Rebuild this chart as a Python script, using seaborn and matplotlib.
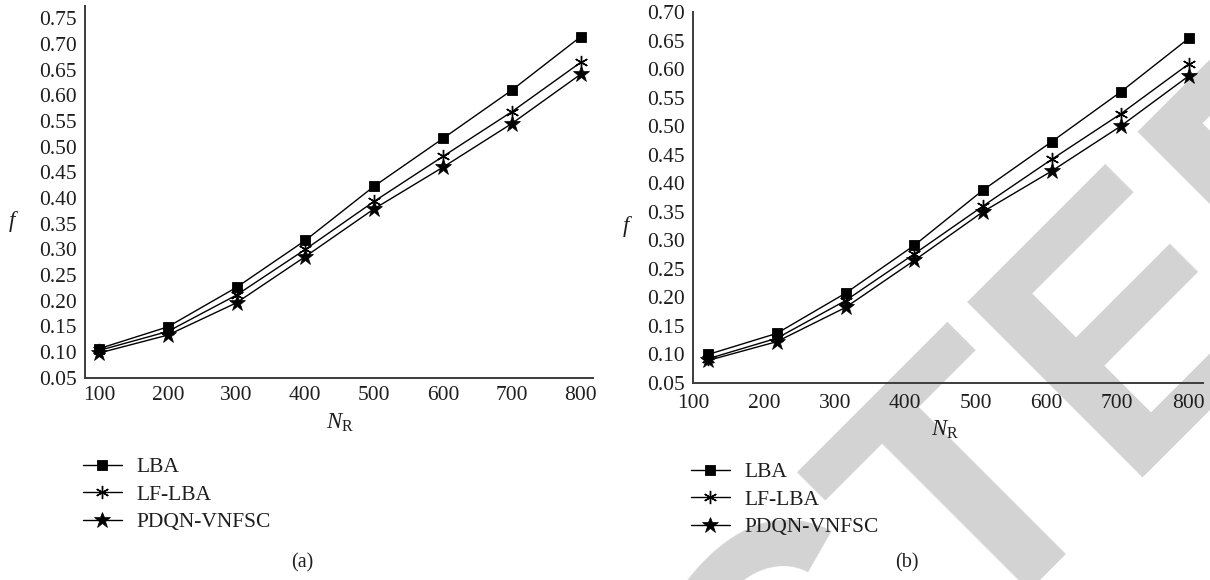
import numpy as np
import pandas as pd
import matplotlib
matplotlib.use("Agg")
import matplotlib.pyplot as plt
import seaborn as sns

# ---------------- data ----------------
n_r = [100, 200, 300, 400, 500, 600, 700, 800]
methods = ["LBA", "LF-LBA", "PDQN-VNFSC"]

a_lba = [0.1065, 0.149, 0.226, 0.3175, 0.423, 0.516, 0.610, 0.714]
a_lflba = [0.103, 0.140, 0.211, 0.300, 0.3935, 0.481, 0.568, 0.664]
a_pdqn = [0.098, 0.133, 0.196, 0.286, 0.379, 0.460, 0.545, 0.641]

b_lba = [0.0995, 0.1365, 0.207, 0.291, 0.388, 0.473, 0.560, 0.655]
b_lflba = [0.092, 0.128, 0.194, 0.276, 0.360, 0.442, 0.5215, 0.610]
b_pdqn = [0.089, 0.122, 0.182, 0.2645, 0.350, 0.4215, 0.500, 0.589]

a_yticks = [0.05, 0.10, 0.15, 0.20, 0.25, 0.30, 0.35, 0.40, 0.45, 0.50, 0.55, 0.60, 0.65, 0.70, 0.75]
b_yticks = [0.05, 0.10, 0.15, 0.20, 0.25, 0.30, 0.35, 0.40, 0.45, 0.50, 0.55, 0.60, 0.65, 0.70]
xtick_labels = ["100", "200", "300", "400", "500", "600", "700", "800"]

# ---------------- style ----------------
sns.set_theme(style="white")
plt.rcParams["font.family"] = ["Liberation Serif", "DejaVu Serif"]
plt.rcParams["mathtext.fontset"] = "custom"
plt.rcParams["mathtext.rm"] = "Liberation Serif"
plt.rcParams["mathtext.it"] = "Liberation Serif:italic"

FS = 15.5
AX_COL = "#3c3c3c"
TXT = "#1e1e1e"

marker_kw = {
    "LBA": dict(marker="s", markersize=7.5, markerfacecolor="black", markeredgecolor="black", markeredgewidth=0.6),
    "LF-LBA": dict(marker=(6, 2, 0), markersize=9.5, markerfacecolor="none", markeredgecolor="black", markeredgewidth=1.0),
    "PDQN-VNFSC": dict(marker="*", markersize=12, markerfacecolor="black", markeredgecolor="black", markeredgewidth=0.5),
}

fig = plt.figure(figsize=(12.1, 5.8), dpi=100)
fig.patch.set_facecolor("white")

# watermark (behind everything)
fig.text(-0.083, -1.924, "RETRACTED", fontsize=260, family="Liberation Sans",
         fontweight="bold", color="#d3d3d3", rotation=45, rotation_mode="anchor",
         ha="left", va="baseline", zorder=-5)

W, H = 1210, 580
ax_a = fig.add_axes([85 / W, 1 - 377.7 / H, (593.3 - 85) / W, (377.7 - 6) / H])
ax_b = fig.add_axes([693.3 / W, 1 - 382.7 / H, (1202.7 - 693.3) / W, (382.7 - 11.7) / H])

panels = [
    (ax_a, [a_lba, a_lflba, a_pdqn], a_yticks, (0.05, 0.774), (79.7, 818.5)),
    (ax_b, [b_lba, b_lflba, b_pdqn], b_yticks, (0.05, 0.701), (79.0, 819.5)),
]

for ax, series, yticks, ylim, xlim in panels:
    ax.set_facecolor("none")
    for name, vals in zip(methods, series):
        df = pd.DataFrame({"N_R": n_r, "f": vals})
        sns.lineplot(data=df, x="N_R", y="f", ax=ax, color="black", linewidth=1.0,
                     label=name, legend=False, **marker_kw[name])
    ax.set_xlim(*xlim)
    ax.set_ylim(*ylim)
    ax.set_yticks(yticks)
    ax.set_yticklabels([f"{v:.2f}" for v in yticks], fontsize=FS)
    ax.set_xlabel("")
    ax.set_ylabel("")
    for s in ["top", "right"]:
        ax.spines[s].set_visible(False)
    for s in ["left", "bottom"]:
        ax.spines[s].set_color(AX_COL)
        ax.spines[s].set_linewidth(1.4)
    ax.tick_params(axis="y", direction="in", length=5, width=1.0, color=AX_COL, pad=6, labelcolor=TXT)
    ax.grid(False)

# panel (a) x ticks: labels at tick positions
ax_a.set_xticks(n_r)
ax_a.set_xticklabels(xtick_labels, fontsize=FS)
ax_a.tick_params(axis="x", direction="in", length=5, width=1.0, color=AX_COL, pad=6, labelcolor=TXT)

# panel (b): tick marks at data positions, labels slightly shifted (as in reference)
ax_b.set_xticks(n_r, minor=True)
ax_b.tick_params(axis="x", which="minor", direction="in", length=5, width=1.0, color=AX_COL)
label_pos = np.linspace(78.6, 798.1, len(xtick_labels))
ax_b.set_xticks(label_pos)
ax_b.set_xticklabels(xtick_labels, fontsize=FS)
ax_b.tick_params(axis="x", which="major", direction="in", length=0, pad=8, labelcolor=TXT)

# axis labels
fig.text(14 / W, 1 - 222 / H, r"$\mathit{f}$", fontsize=FS + 1, ha="center", va="center", color=TXT)
fig.text(627 / W, 1 - 227 / H, r"$\mathit{f}$", fontsize=FS + 1, ha="center", va="center", color=TXT)
fig.text(340 / W, 1 - 423 / H, r"$\mathit{N}_{\mathrm{R}}$", fontsize=FS + 1, ha="center", va="center", color=TXT)
fig.text(945 / W, 1 - 430 / H, r"$\mathit{N}_{\mathrm{R}}$", fontsize=FS + 1, ha="center", va="center", color=TXT)

# captions
fig.text(302.5 / W, 1 - 563 / H, "(a)", fontsize=FS - 1, ha="center", va="center", color=TXT)
fig.text(907 / W, 1 - 563 / H, "(b)", fontsize=FS - 1, ha="center", va="center", color=TXT)

# legends below each panel
for ax, (lx, ly) in [(ax_a, (83, 457)), (ax_b, (691, 462))]:
    handles, labels = ax.get_legend_handles_labels()
    leg = ax.legend(handles, labels, loc="upper left",
                    bbox_to_anchor=(lx / W, 1 - ly / H), bbox_transform=fig.transFigure,
                    frameon=False, fontsize=FS, handlelength=1.8, handletextpad=0.7,
                    labelspacing=0.35, borderpad=0, borderaxespad=0)
    for t in leg.get_texts():
        t.set_color(TXT)

fig.savefig("out.png", dpi=100, facecolor="white")
